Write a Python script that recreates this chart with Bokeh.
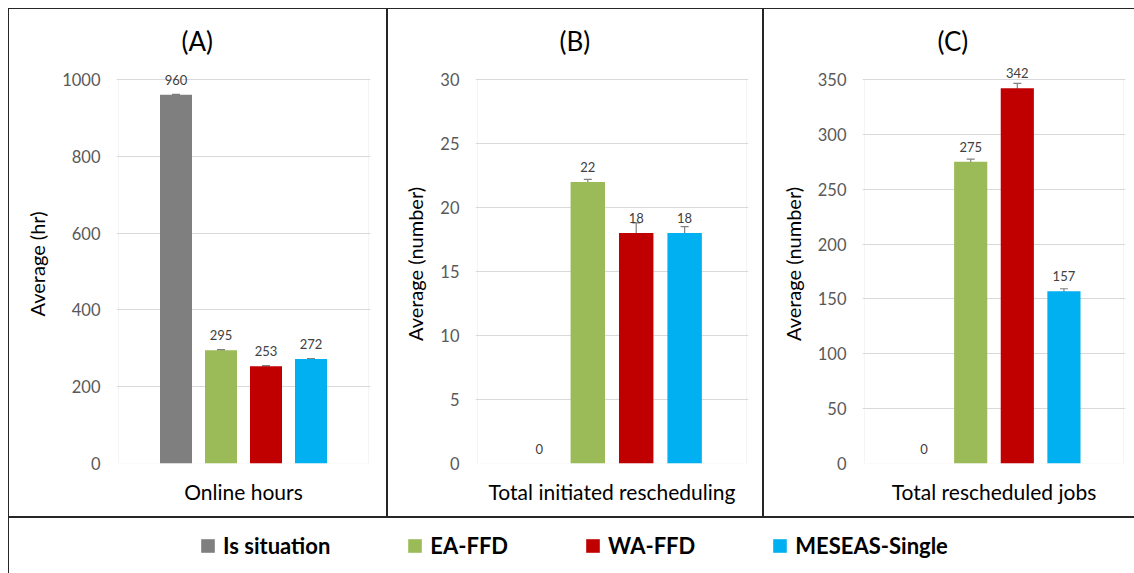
from bokeh.plotting import figure
from bokeh.models import (ColumnDataSource, FactorRange, Range1d, FixedTicker,
                          Whisker, TeeHead, Legend, LegendItem, LabelSet, BoxAnnotation)
from bokeh.transform import dodge
from bokeh.layouts import row, column
from bokeh.embed import file_html
from bokeh.resources import INLINE
from bokeh.core.properties import value

# ---------------- data ----------------
series = ["Is situation", "EA-FFD", "WA-FFD", "MESEAS-Single"]
series_colors = ["#7f7f7f", "#9bbb59", "#c00000", "#00b0f0"]

panel_labels = ["(A)", "(B)", "(C)"]
categories = ["Online hours", "Total initiated rescheduling", "Total rescheduled jobs"]
y_titles = ["Average (hr)", "Average (number)", "Average (number)"]

online_hours = [960, 295, 253, 272]
online_hours_err = [1.5, 1.5, 2.0, 1.5]
initiated_rescheduling = [0, 22, 18, 18]
initiated_rescheduling_err = [0, 0.2, 0.8, 0.5]
rescheduled_jobs = [0, 275, 342, 157]
rescheduled_jobs_err = [0, 2.4, 4.4, 2.3]

y_ticks_a = [0, 200, 400, 600, 800, 1000]
y_ticks_b = [0, 5, 10, 15, 20, 25, 30]
y_ticks_c = [0, 50, 100, 150, 200, 250, 300, 350]

# ---------------- styling ----------------
FONT = "Lato"
LINE = "#262626"
ERR = "#808080"
GRID = "#d9d9d9"
STEP = 0.18
BAR_W = 0.128
FIG_H = 509
FRAME_TOP = 56      # frame top (px) ; plot-area top sits 15px lower
AREA_TOP = 71
FRAME_BOTTOM = 54
EDGE = 2            # frame extends 2px beyond plot area on both sides


def make_panel(k, values, errors, ticks, width, area_w, left, title_offset, shadow):
    cat = categories[k]
    frame_w = area_w + 2 * EDGE
    right = width - left - frame_w
    area_h = FIG_H - AREA_TOP - FRAME_BOTTOM
    frame_h = FIG_H - FRAME_TOP - FRAME_BOTTOM
    ymax = ticks[-1]
    p = figure(width=width, height=FIG_H,
               x_range=FactorRange(factors=[cat], range_padding=2 * EDGE / area_w),
               y_range=Range1d(0, ymax * frame_h / area_h), title=panel_labels[k],
               output_backend="svg", toolbar_location=None,
               min_border_left=left, min_border_right=right,
               min_border_top=FRAME_TOP, min_border_bottom=FRAME_BOTTOM)
    p.border_fill_color = None
    p.background_fill_color = "white"
    p.outline_line_color = None
    p.styles = {"background-color": "white", "box-shadow": shadow}

    p.title.text_font = FONT
    p.title.text_font_size = "26px"
    p.title.text_font_style = "normal"
    p.title.text_color = "black"
    p.title.align = "left"
    p.title.offset = title_offset
    p.title.standoff = 15

    # plot area box (light grey)
    p.add_layout(BoxAnnotation(bottom=0, top=ymax, left=0, right=1, fill_color=None,
                               line_color=GRID, line_width=1, level="underlay"))

    p.xgrid.visible = False
    p.ygrid.ticker = FixedTicker(ticks=ticks)
    p.ygrid.grid_line_color = GRID
    p.ygrid.grid_line_width = 1

    p.yaxis.ticker = FixedTicker(ticks=ticks)
    p.yaxis.axis_line_color = None
    p.yaxis.major_tick_line_color = None
    p.yaxis.minor_tick_line_color = None
    p.yaxis.major_tick_out = 0
    p.yaxis.major_tick_in = 0
    p.yaxis.major_label_standoff = 16
    p.yaxis.major_label_text_font = FONT
    p.yaxis.major_label_text_font_size = "16.5px"
    p.yaxis.major_label_text_color = "#595959"
    p.yaxis.axis_label = y_titles[k]
    p.yaxis.axis_label_text_font = FONT
    p.yaxis.axis_label_text_font_size = "20px"
    p.yaxis.axis_label_text_font_style = "normal"
    p.yaxis.axis_label_text_color = "black"
    p.yaxis.axis_label_standoff = 10

    p.xaxis.axis_line_color = None
    p.xaxis.major_tick_line_color = None
    p.xaxis.major_tick_out = 0
    p.xaxis.major_tick_in = 0
    p.xaxis.major_label_standoff = 15
    p.xaxis.major_label_text_font = FONT
    p.xaxis.major_label_text_font_size = "21px"
    p.xaxis.major_label_text_color = "black"

    for i, name in enumerate(series):
        off = (i - 1.5) * STEP
        v = values[i]
        e = errors[i]
        src = ColumnDataSource(dict(cat=[cat], val=[v], upper=[v + e], lower=[v - e],
                                    lab=[str(v)]))
        p.vbar(x=dodge("cat", off, range=p.x_range), top="val", width=BAR_W, source=src,
               fill_color=series_colors[i], line_color=None)
        if e > 0:
            p.add_layout(Whisker(base=dodge("cat", off, range=p.x_range),
                                 upper="upper", lower="lower", source=src,
                                 line_color=ERR, line_width=1.2,
                                 upper_head=TeeHead(size=8, line_color=ERR, line_width=1.2),
                                 lower_head=TeeHead(size=8, line_color=ERR, line_width=1.2)))
        p.add_layout(LabelSet(x=dodge("cat", off, range=p.x_range), y="val", text="lab",
                              source=src, y_offset=15, text_align="center",
                              text_baseline="middle", text_font=value(FONT),
                              text_font_size="13px", text_color="#404040"))
    return p


S_ALL = f"inset 1px 0 0 0 {LINE}, inset 0 1px 0 0 {LINE}, inset -1px 0 0 0 {LINE}, inset 0 -1px 0 0 {LINE}"
S_C = f"inset 1px 0 0 0 {LINE}, inset 0 1px 0 0 {LINE}, inset 0 -1px 0 0 {LINE}"

pa = make_panel(0, online_hours, online_hours_err, y_ticks_a, 379, 250, 108, 65, S_ALL)
pb = make_panel(1, initiated_rescheduling, initiated_rescheduling_err, y_ticks_b, 376, 269, 88, 84, S_ALL)
pc = make_panel(2, rescheduled_jobs, rescheduled_jobs_err, y_ticks_c, 371, 259, 99, 75, S_C)

# ---------------- legend strip ----------------
leg = figure(width=1126, height=56, output_backend="svg", toolbar_location=None,
             x_axis_location=None, y_axis_location=None, min_border=0,
             x_range=(0, 1), y_range=(0, 1))
leg.grid.visible = False
leg.outline_line_color = None
leg.border_fill_color = None
leg.background_fill_color = None
leg.styles = {"background-color": "white",
              "box-shadow": f"inset 1px 0 0 0 {LINE}, inset 0 1px 0 0 {LINE}"}

items = []
for i, name in enumerate(series):
    r = leg.vbar(x=[0.5], top=[0], bottom=[0], width=0.01,
                 fill_color=series_colors[i], line_color=None)
    items.append(LegendItem(label=name, renderers=[r]))

legend = Legend(items=items, orientation="horizontal", location=(191, 14),
                glyph_width=17, glyph_height=17, label_standoff=7, spacing=76,
                padding=0, margin=0, border_line_color=None, background_fill_alpha=0,
                label_text_font=FONT, label_text_font_size="22px",
                label_text_font_style="bold", label_text_color="black")
leg.add_layout(legend)

layout = column(row(pa, pb, pc), leg, margin=(8, 0, 0, 8))

with open("out.html", "w") as f:
    f.write(file_html(layout, INLINE))
